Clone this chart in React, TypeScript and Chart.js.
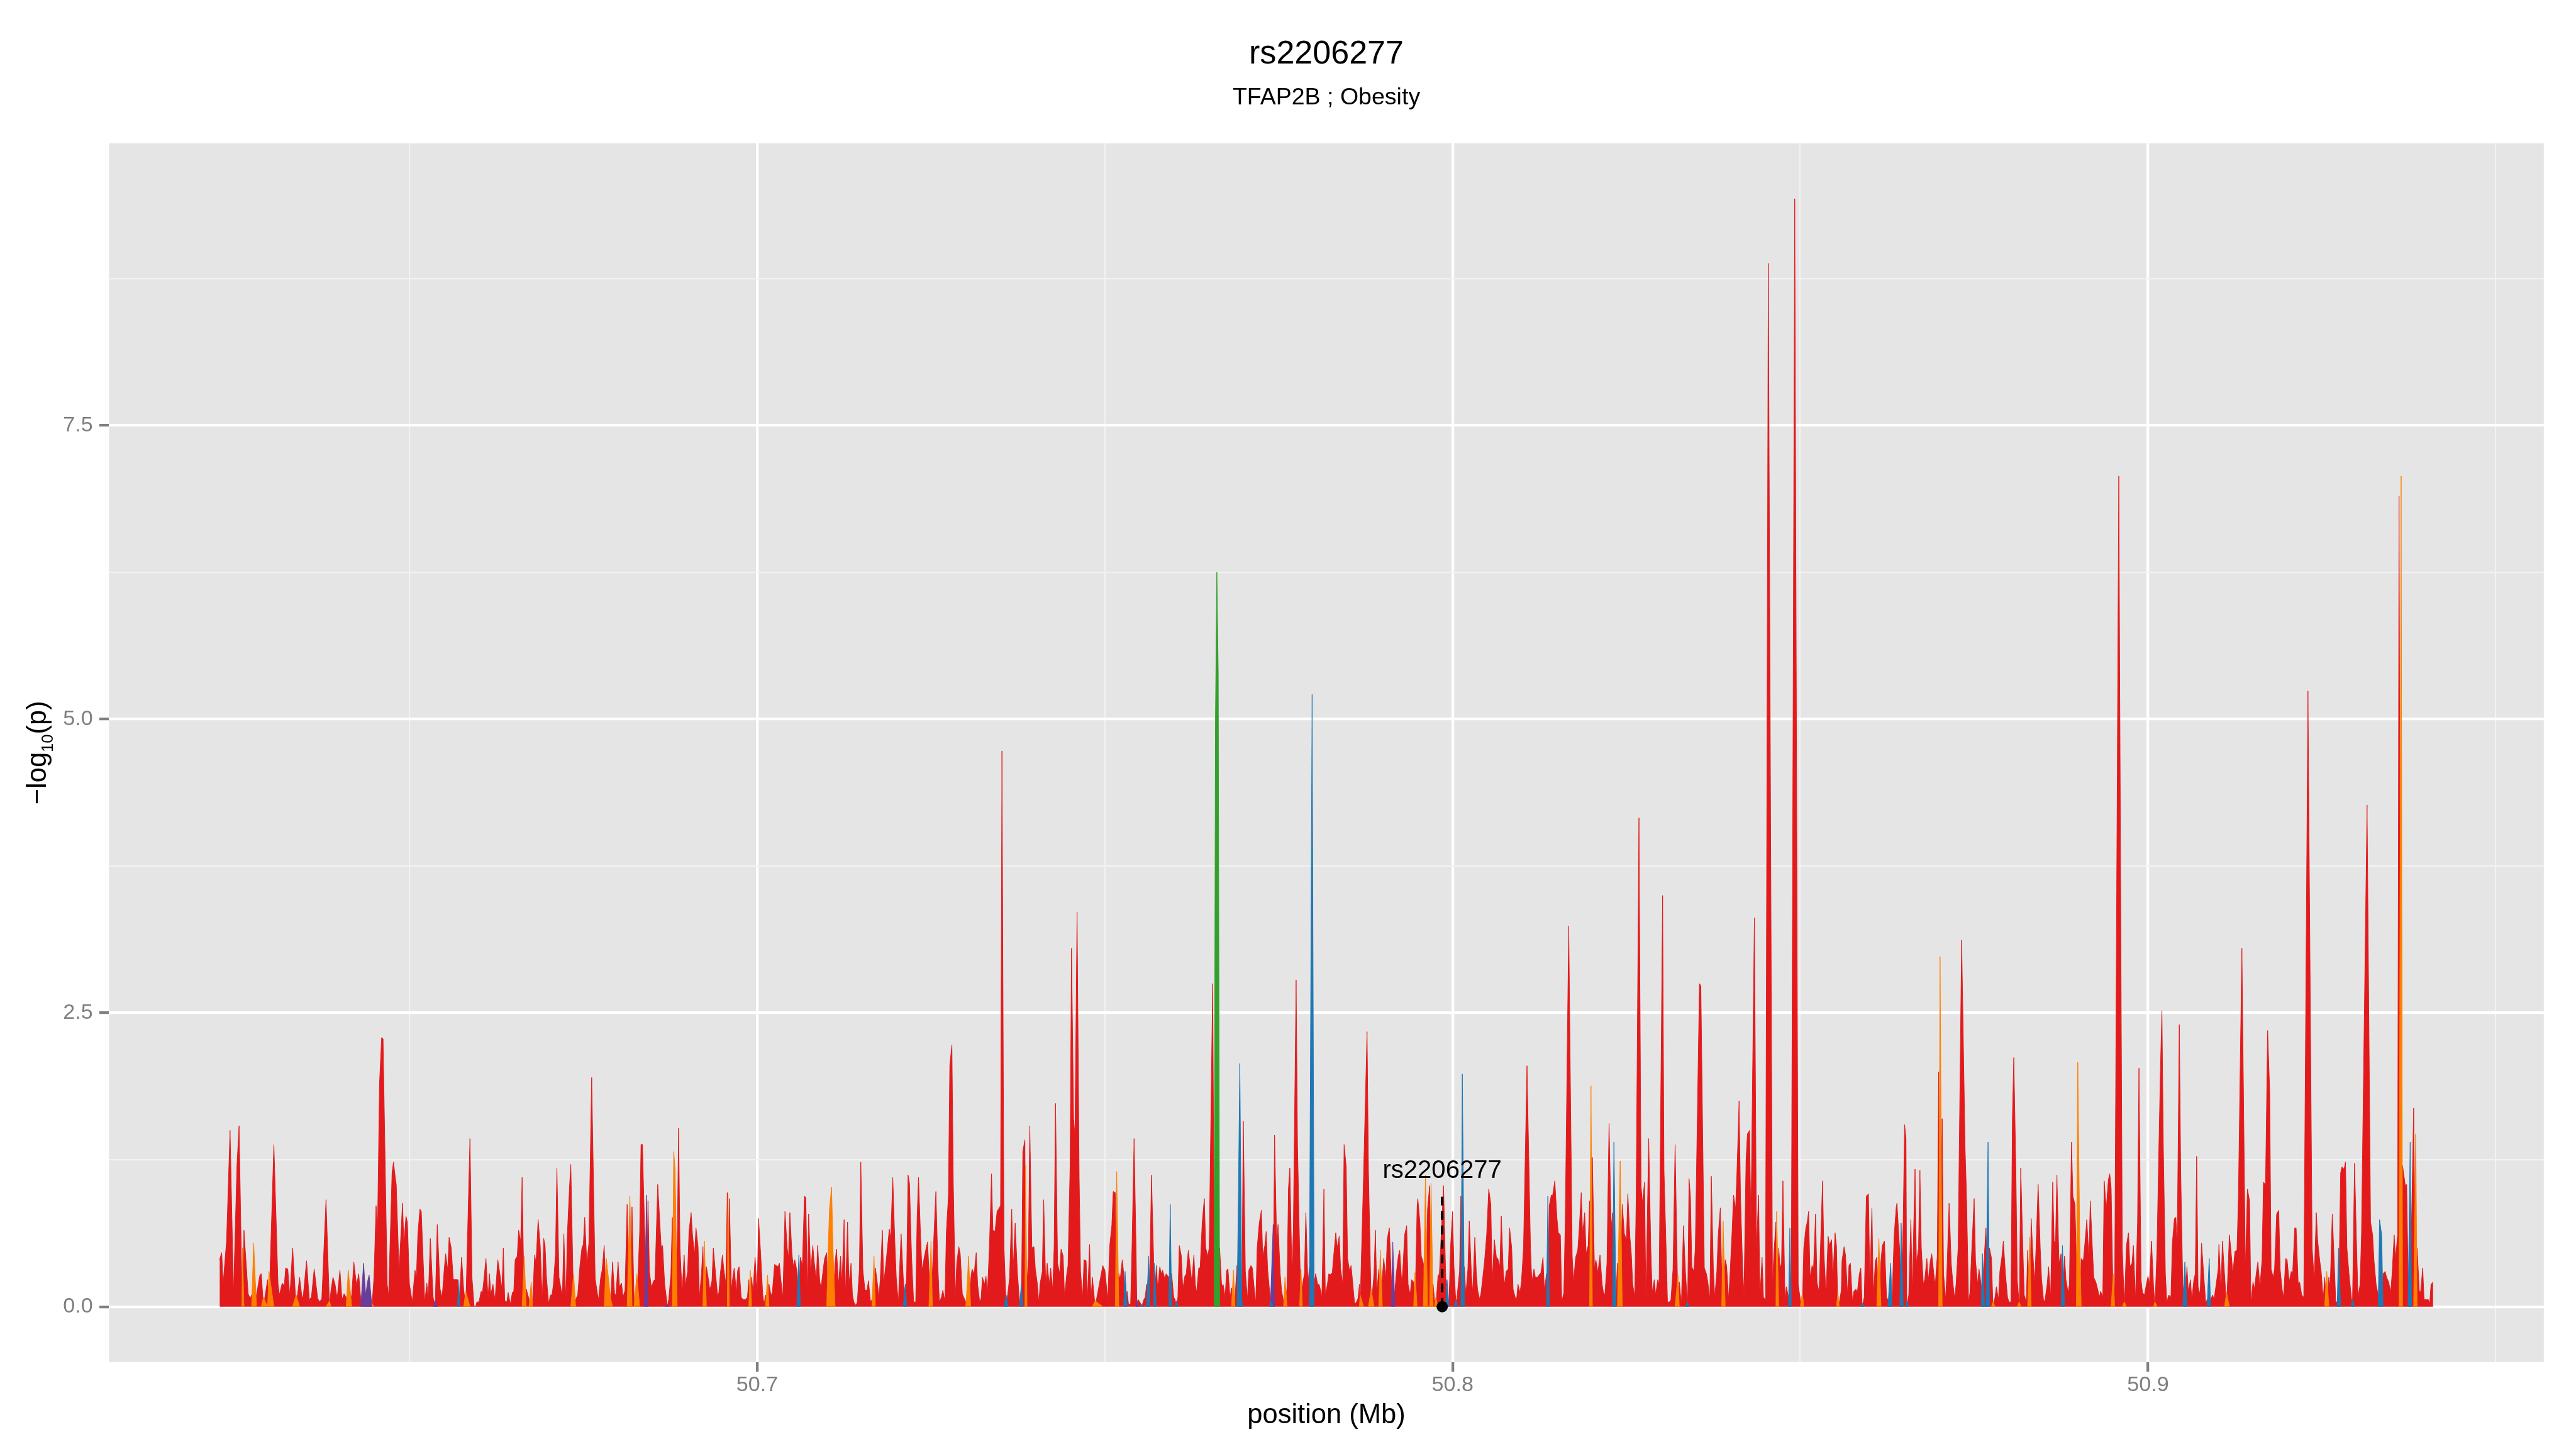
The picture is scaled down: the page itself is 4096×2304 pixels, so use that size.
import React, { useEffect, useRef } from 'react';
import { Chart, registerables } from 'chart.js';

Chart.register(...registerables);

// ---------- text ----------
const chartTitle = 'rs2206277';
const chartSubtitle = 'TFAP2B ; Obesity';
const xAxisTitle = 'position (Mb)';
const yAxisTitleParts = ['\u2212log', '10', '(p)'];

// ---------- lead SNP annotation ----------
const leadSnpName = 'rs2206277';
const leadSnpPos = 50.7985;
const leadSnpValue = 0;
const leadSnpLineTop = 0.94;
const leadSnpLabelY = 1.095;

// ---------- ticks ----------
const xMajorTicks = [50.7, 50.8, 50.9];
const xMinorTicks = [50.65, 50.75, 50.85, 50.95];
const yMajorTicks = [0, 2.5, 5, 7.5];
const yMinorTicks = [1.25, 3.75, 6.25, 8.75];

// ---------- red (default group) SNPs, position (Mb) / -log10(p) ----------
const redPosA = [
  50.6227, 50.6230, 50.6232, 50.6237, 50.6242, 50.6247, 50.6252, 50.6255, 50.6259, 50.6262,
  50.6268, 50.6271, 50.6273, 50.6280, 50.6285, 50.6287, 50.6296, 50.6305, 50.6311, 50.6313,
  50.6317, 50.6320, 50.6322, 50.6325, 50.6328, 50.6332, 50.6342, 50.6345, 50.6347, 50.6352,
  50.6356, 50.6359, 50.6363, 50.6368, 50.6371, 50.6374, 50.6380, 50.6387, 50.6390, 50.6393,
  50.6396, 50.6400, 50.6403, 50.6406, 50.6409, 50.6417, 50.6420, 50.6424, 50.6427, 50.6430,
  50.6449, 50.6452, 50.6454, 50.6457, 50.6460, 50.6462, 50.6468, 50.6470, 50.6475, 50.6477,
  50.6480, 50.6481, 50.6485, 50.6490, 50.6492, 50.6495, 50.6497, 50.6500, 50.6504, 50.6508,
  50.6510, 50.6512, 50.6515, 50.6517, 50.6522, 50.6525, 50.6527, 50.6530, 50.6534, 50.6540,
  50.6544, 50.6547, 50.6550, 50.6552, 50.6555, 50.6557, 50.6560, 50.6563, 50.6566, 50.6569,
  50.6572, 50.6575, 50.6578, 50.6587, 50.6590, 50.6593, 50.6595, 50.6597, 50.6600, 50.6603,
  50.6605, 50.6607, 50.6610, 50.6613, 50.6615, 50.6617, 50.6620, 50.6623, 50.6627, 50.6630,
  50.6633, 50.6635, 50.6637, 50.6640, 50.6642, 50.6645, 50.6648, 50.6650, 50.6652, 50.6655,
  50.6657, 50.6660, 50.6662, 50.6668, 50.6672, 50.6677, 50.6680, 50.6682, 50.6685, 50.6688,
  50.6691, 50.6693, 50.6695, 50.6697, 50.6700, 50.6703, 50.6705, 50.6707, 50.6710, 50.6712,
  50.6715, 50.6718, 50.6720, 50.6722, 50.6725, 50.6727, 50.6730, 50.6732, 50.6739, 50.6742,
  50.6745, 50.6748, 50.6750, 50.6752, 50.6755, 50.6758, 50.6762, 50.6767, 50.6771, 50.6772,
  50.6775, 50.6777, 50.6780, 50.6792, 50.6795, 50.6797, 50.6800, 50.6802, 50.6805, 50.6807,
  50.6810, 50.6813, 50.6820, 50.6823, 50.6831, 50.6833, 50.6835, 50.6838, 50.6843, 50.6845,
  50.6848, 50.6851, 50.6853, 50.6857,
];
const redValA = [
  0.40, 0.46, 0.19, 0.56, 1.50, 0.11, 1.21, 1.54, 0.17, 0.65,
  0.11, 0.07, 0.10, 0.10, 0.27, 0.28, 0.23, 1.38, 0.19, 0.10,
  0.20, 0.18, 0.33, 0.32, 0.09, 0.50, 0.25, 0.10, 0.07, 0.39,
  0.06, 0.08, 0.32, 0.07, 0.04, 0.07, 0.91, 0.13, 0.25, 0.19,
  0.07, 0.31, 0.06, 0.11, 0.08, 0.10, 0.38, 0.18, 0.28, 0.06,
  0.25, 0.86, 0.63, 1.91, 2.29, 2.28, 0.19, 0.09, 1.14, 1.23,
  1.08, 1.04, 0.30, 0.88, 0.54, 0.77, 0.72, 0.19, 0.04, 0.31,
  0.25, 0.61, 0.83, 0.81, 0.04, 0.20, 0.07, 0.58, 0.08, 0.70,
  0.15, 0.08, 0.32, 0.45, 0.31, 0.59, 0.50, 0.23, 0.23, 0.23,
  0.08, 0.42, 0.14, 1.43, 0.24, 0.00, 0.00, 0.04, 0.04, 0.13,
  0.12, 0.23, 0.41, 0.07, 0.28, 0.10, 0.19, 0.05, 0.40, 0.28,
  0.15, 0.50, 0.05, 0.04, 0.12, 0.02, 0.12, 0.13, 0.40, 0.43,
  0.65, 0.55, 1.10, 0.15, 0.06, 0.04, 0.44, 0.37, 0.74, 0.52,
  0.04, 0.58, 0.52, 0.25, 0.03, 0.10, 0.10, 0.19, 0.45, 1.18,
  0.25, 0.15, 0.10, 0.62, 0.04, 0.61, 1.00, 1.21, 0.06, 0.10,
  0.34, 0.50, 0.53, 0.76, 0.37, 0.54, 1.95, 0.24, 0.08, 0.07,
  0.25, 0.31, 0.52, 0.38, 0.11, 0.10, 0.38, 0.17, 0.20, 0.08,
  0.14, 0.87, 0.85, 0.06, 0.63, 1.38, 1.38, 0.69, 0.90, 0.30,
  0.16, 0.22, 0.23, 1.04,
];

const redPosB = [
  50.6862, 50.6864, 50.6867, 50.6873, 50.6876, 50.6878, 50.6885, 50.6887, 50.6889, 50.6892,
  50.6895, 50.6897, 50.6900, 50.6902, 50.6905, 50.6907, 50.6910, 50.6912, 50.6915, 50.6917,
  50.6920, 50.6922, 50.6927, 50.6930, 50.6932, 50.6935, 50.6937, 50.6940, 50.6943, 50.6945,
  50.6947, 50.6950, 50.6952, 50.6955, 50.6957, 50.6960, 50.6963, 50.6965, 50.6967, 50.6970,
  50.6972, 50.6974, 50.6977, 50.6980, 50.6983, 50.6986, 50.6988, 50.6992, 50.6994, 50.6997,
  50.7000, 50.7002, 50.7005, 50.7008, 50.7010, 50.7012, 50.7017, 50.7020, 50.7022, 50.7025,
  50.7027, 50.7030, 50.7032, 50.7034, 50.7037, 50.7040, 50.7043, 50.7045, 50.7047, 50.7050,
  50.7052, 50.7054, 50.7057, 50.7062, 50.7065, 50.7068, 50.7070, 50.7072, 50.7074, 50.7077,
  50.7080, 50.7082, 50.7085, 50.7087, 50.7090, 50.7092, 50.7095, 50.7097, 50.7100, 50.7112,
  50.7114, 50.7117, 50.7120, 50.7122, 50.7125, 50.7127, 50.7130, 50.7132, 50.7135, 50.7137,
  50.7139, 50.7142, 50.7144, 50.7147, 50.7149, 50.7152, 50.7155, 50.7158, 50.7160, 50.7163,
  50.7165, 50.7170, 50.7173, 50.7175, 50.7177, 50.7180, 50.7182, 50.7185, 50.7187, 50.7190,
  50.7192, 50.7195, 50.7198, 50.7200, 50.7203, 50.7205, 50.7207, 50.7210, 50.7215, 50.7217,
  50.7219, 50.7222, 50.7225, 50.7228, 50.7230, 50.7232, 50.7235, 50.7237, 50.7240, 50.7243,
  50.7245, 50.7247, 50.7252, 50.7255, 50.7257, 50.7260, 50.7262, 50.7265, 50.7267, 50.7270,
  50.7272, 50.7275, 50.7277, 50.7280, 50.7282, 50.7285, 50.7287, 50.7290, 50.7292, 50.7295,
  50.7297, 50.7300, 50.7307, 50.7309, 50.7312, 50.7315, 50.7317, 50.7320, 50.7322, 50.7324,
  50.7327, 50.7329, 50.7331, 50.7334, 50.7337, 50.7339, 50.7342, 50.7345, 50.7347, 50.7350,
  50.7352, 50.7355, 50.7361, 50.7363, 50.7366, 50.7368, 50.7371, 50.7374, 50.7377, 50.7382,
  50.7385, 50.7388, 50.7390, 50.7392, 50.7395, 50.7398, 50.7400, 50.7403, 50.7405, 50.7407,
  50.7410, 50.7412, 50.7415, 50.7417, 50.7420, 50.7422, 50.7425, 50.7427, 50.7429, 50.7432,
  50.7435, 50.7437, 50.7440, 50.7442, 50.7445, 50.7447, 50.7450, 50.7452, 50.7455, 50.7457,
  50.7460, 50.7463, 50.7465, 50.7468, 50.7470, 50.7473, 50.7475, 50.7478, 50.7480, 50.7482,
];
const redValB = [
  0.50, 0.52, 0.19, 0.07, 0.28, 0.76, 0.50, 1.52, 0.50, 0.12,
  0.44, 0.18, 0.30, 0.64, 0.80, 0.61, 0.44, 0.67, 0.51, 0.08,
  0.29, 0.51, 0.34, 0.23, 0.14, 0.22, 0.50, 0.29, 0.10, 0.12,
  0.28, 0.44, 0.32, 0.19, 0.97, 0.92, 0.14, 0.25, 0.33, 0.12,
  0.31, 0.34, 0.08, 0.06, 0.06, 0.08, 0.23, 0.25, 0.12, 0.42,
  0.12, 0.75, 0.45, 0.10, 0.02, 0.10, 0.19, 0.09, 0.13, 0.36,
  0.35, 0.34, 0.37, 0.23, 0.08, 0.81, 0.51, 0.41, 0.80, 0.45,
  0.34, 0.40, 0.31, 0.42, 0.35, 0.94, 0.93, 0.11, 0.79, 0.29,
  0.52, 0.38, 0.23, 0.52, 0.21, 0.17, 0.32, 0.41, 0.46, 0.37,
  0.49, 0.19, 0.43, 0.19, 0.74, 0.10, 0.72, 0.19, 0.37, 0.10,
  0.04, 0.01, 0.04, 0.32, 1.23, 0.31, 0.14, 0.14, 0.22, 0.04,
  0.06, 0.33, 0.19, 0.08, 0.23, 0.65, 0.20, 0.36, 0.48, 0.66,
  0.57, 1.10, 0.54, 0.25, 0.03, 0.34, 0.62, 0.25, 0.30, 1.12,
  1.05, 0.43, 0.04, 0.04, 0.76, 1.10, 0.59, 0.31, 0.41, 0.50,
  0.55, 0.31, 0.30, 0.72, 0.98, 0.32, 0.04, 0.08, 0.14, 0.04,
  0.63, 0.94, 2.05, 2.23, 1.06, 0.08, 0.37, 0.51, 0.45, 0.11,
  0.08, 0.04, 0.23, 0.32, 0.28, 0.46, 0.19, 0.04, 0.07, 0.25,
  0.19, 0.26, 0.11, 0.51, 1.13, 0.65, 0.64, 0.81, 0.83, 0.86,
  4.73, 0.50, 0.14, 0.25, 0.83, 0.30, 0.71, 0.31, 0.06, 1.32,
  1.42, 0.19, 0.43, 1.54, 0.50, 0.51, 0.32, 0.19, 0.03, 0.20,
  0.30, 0.91, 0.17, 0.37, 0.19, 0.33, 0.14, 0.50, 1.73, 0.37,
  0.28, 0.49, 0.43, 0.08, 0.27, 0.35, 1.20, 3.05, 1.60, 1.45,
  3.36, 1.10, 0.30, 0.07, 0.40, 0.39, 0.06, 0.53, 0.06, 0.25,
];

const redPosC = [
  50.7497, 50.7500, 50.7502, 50.7504, 50.7507, 50.7510, 50.7512, 50.7515, 50.7520, 50.7522,
  50.7525, 50.7527, 50.7532, 50.7534, 50.7537, 50.7539, 50.7542, 50.7545, 50.7548, 50.7551,
  50.7556, 50.7558, 50.7560, 50.7565, 50.7567, 50.7570, 50.7574, 50.7576, 50.7579, 50.7581,
  50.7583, 50.7586, 50.7588, 50.7592, 50.7596, 50.7599, 50.7601, 50.7605, 50.7607, 50.7610,
  50.7612, 50.7615, 50.7617, 50.7620, 50.7623, 50.7625, 50.7628, 50.7630, 50.7632, 50.7635,
  50.7637, 50.7640, 50.7643, 50.7645, 50.7648, 50.7650, 50.7655, 50.7657, 50.7665, 50.7668,
  50.7670, 50.7673, 50.7675, 50.7677, 50.7680, 50.7682, 50.7687, 50.7690, 50.7699, 50.7702,
  50.7705, 50.7707, 50.7710, 50.7712, 50.7715, 50.7717, 50.7719, 50.7722, 50.7725, 50.7727,
  50.7730, 50.7732, 50.7734, 50.7737, 50.7744, 50.7747, 50.7749, 50.7752, 50.7754, 50.7757,
  50.7762, 50.7764, 50.7766, 50.7769, 50.7771, 50.7775, 50.7777, 50.7780, 50.7784, 50.7787,
  50.7789, 50.7792, 50.7794, 50.7801, 50.7803, 50.7806, 50.7808, 50.7811, 50.7812, 50.7815,
  50.7817, 50.7820, 50.7822, 50.7824, 50.7827, 50.7829, 50.7832, 50.7834, 50.7837, 50.7839,
  50.7842, 50.7844, 50.7847, 50.7849, 50.7852, 50.7854, 50.7856, 50.7859, 50.7861, 50.7864,
  50.7866, 50.7872, 50.7877, 50.7879, 50.7887, 50.7889, 50.7891, 50.7894, 50.7899, 50.7901,
  50.7904, 50.7906, 50.7909, 50.7912, 50.7917, 50.7919, 50.7922, 50.7924, 50.7927, 50.7929,
  50.7931, 50.7934, 50.7936, 50.7939, 50.7941, 50.7944, 50.7949, 50.7950, 50.7953, 50.7955,
  50.7958, 50.7964, 50.7967, 50.7972, 50.7974, 50.7979, 50.7981, 50.7987, 50.7990, 50.7995,
  50.7997, 50.8000, 50.8002, 50.8007, 50.8010, 50.8012, 50.8017, 50.8019, 50.8022, 50.8024,
  50.8027, 50.8029, 50.8032, 50.8034, 50.8036, 50.8039, 50.8041, 50.8044, 50.8046, 50.8049,
  50.8052, 50.8055, 50.8057, 50.8060, 50.8063, 50.8065, 50.8068, 50.8070, 50.8073, 50.8075,
  50.8077, 50.8080, 50.8082, 50.8085, 50.8087, 50.8090, 50.8092, 50.8094, 50.8097, 50.8099,
  50.8102, 50.8107, 50.8112, 50.8114, 50.8117, 50.8119, 50.8122,
];
const redValC = [
  0.35, 0.31, 0.19, 0.04, 0.52, 0.69, 0.98, 0.97, 0.28, 0.23,
  0.40, 0.29, 0.13, 0.02, 0.02, 0.50, 1.43, 0.43, 0.06, 0.03,
  0.06, 0.08, 0.19, 0.41, 1.12, 0.43, 0.35, 0.15, 0.34, 0.28,
  0.31, 0.24, 0.28, 0.25, 0.28, 0.08, 0.06, 0.08, 0.52, 0.43,
  0.15, 0.26, 0.28, 0.48, 0.32, 0.21, 0.44, 0.19, 0.12, 0.33,
  0.33, 0.72, 0.92, 0.50, 0.43, 0.50, 2.75, 0.72, 0.50, 0.17,
  0.19, 0.08, 0.31, 0.32, 0.07, 0.16, 0.06, 0.35, 1.58, 0.30,
  0.06, 0.31, 0.35, 0.33, 0.14, 0.03, 0.50, 0.71, 0.82, 0.43,
  0.52, 0.64, 0.32, 0.12, 1.46, 0.55, 0.70, 0.29, 0.14, 0.04,
  0.17, 1.01, 1.18, 0.28, 0.65, 2.78, 1.38, 0.50, 0.18, 0.28,
  0.80, 0.19, 0.33, 0.19, 0.28, 0.19, 0.19, 0.12, 0.06, 1.00,
  0.10, 0.19, 0.28, 0.27, 0.29, 0.43, 0.63, 0.50, 0.60, 0.32,
  0.19, 1.38, 1.19, 0.41, 0.30, 0.35, 0.23, 0.03, 0.03, 0.07,
  0.19, 1.12, 2.34, 1.16, 0.28, 0.65, 0.12, 0.32, 0.25, 0.41,
  0.24, 0.57, 0.67, 0.23, 0.13, 0.28, 0.43, 0.48, 0.19, 0.37,
  0.61, 0.69, 0.19, 0.10, 0.23, 0.21, 0.85, 0.92, 0.72, 0.43,
  0.37, 0.83, 1.03, 0.19, 0.06, 0.26, 0.28, 1.03, 0.28, 0.06,
  0.50, 0.81, 0.34, 0.12, 0.30, 0.94, 0.34, 0.10, 0.32, 0.73,
  0.28, 0.12, 0.59, 0.30, 0.14, 0.06, 0.12, 0.28, 0.39, 0.61,
  1.00, 0.87, 0.19, 0.57, 0.42, 0.41, 0.34, 0.77, 0.28, 0.19,
  0.30, 0.32, 0.67, 0.50, 0.15, 0.08, 0.06, 0.19, 0.12, 0.21,
  0.50, 2.05, 0.50, 0.21, 0.32, 0.25, 0.25,
];

const redPosD = [
  50.8127, 50.8130, 50.8132, 50.8135, 50.8139, 50.8142, 50.8144, 50.8147, 50.8150, 50.8152,
  50.8155, 50.8157, 50.8160, 50.8162, 50.8167, 50.8172, 50.8174, 50.8177, 50.8180, 50.8182,
  50.8185, 50.8187, 50.8190, 50.8192, 50.8195, 50.8197, 50.8201, 50.8204, 50.8206, 50.8209,
  50.8212, 50.8215, 50.8217, 50.8219, 50.8222, 50.8225, 50.8228, 50.8230, 50.8235, 50.8237,
  50.8244, 50.8247, 50.8250, 50.8252, 50.8255, 50.8257, 50.8259, 50.8262, 50.8264, 50.8268,
  50.8271, 50.8273, 50.8276, 50.8278, 50.8282, 50.8285, 50.8287, 50.8290, 50.8292, 50.8295,
  50.8297, 50.8302, 50.8304, 50.8307, 50.8309, 50.8312, 50.8314, 50.8317, 50.8320, 50.8326,
  50.8329, 50.8332, 50.8335, 50.8340, 50.8342, 50.8344, 50.8347, 50.8349, 50.8355, 50.8357,
  50.8362, 50.8365, 50.8367, 50.8370, 50.8372, 50.8375, 50.8377, 50.8380, 50.8382, 50.8385,
  50.8387, 50.8392, 50.8394, 50.8397, 50.8399, 50.8402, 50.8404, 50.8407, 50.8409, 50.8412,
  50.8414, 50.8417, 50.8419, 50.8422, 50.8424, 50.8427, 50.8429, 50.8434, 50.8437, 50.8440,
  50.8442, 50.8445, 50.8447, 50.8450, 50.8454, 50.8460, 50.8462, 50.8465, 50.8469, 50.8471,
  50.8473, 50.8475, 50.8478, 50.8480, 50.8483, 50.8487, 50.8492, 50.8497, 50.8500, 50.8505,
  50.8508, 50.8510, 50.8512, 50.8514, 50.8517, 50.8519, 50.8522, 50.8524, 50.8527, 50.8529,
  50.8532, 50.8534, 50.8537, 50.8540, 50.8542, 50.8545, 50.8547, 50.8550, 50.8552, 50.8556,
  50.8559, 50.8560, 50.8563, 50.8565, 50.8568, 50.8570, 50.8572, 50.8575, 50.8577, 50.8580,
  50.8582, 50.8585, 50.8587, 50.8592, 50.8595, 50.8598, 50.8600, 50.8603, 50.8605, 50.8608,
  50.8610, 50.8616, 50.8618, 50.8621, 50.8624, 50.8626, 50.8632, 50.8635, 50.8638, 50.8639,
  50.8643, 50.8648, 50.8650, 50.8652, 50.8656, 50.8659, 50.8661, 50.8665, 50.8667, 50.8670,
  50.8672, 50.8674, 50.8677, 50.8679, 50.8682, 50.8684, 50.8687, 50.8689, 50.8692, 50.8694,
  50.8697, 50.8699, 50.8704, 50.8706, 50.8709, 50.8711, 50.8714, 50.8717, 50.8719, 50.8722,
  50.8724, 50.8727, 50.8732, 50.8737, 50.8739, 50.8742, 50.8744, 50.8746, 50.8750, 50.8752,
  50.8755,
];
const redValD = [
  0.29, 0.42, 0.13, 0.28, 0.86, 0.95, 0.95, 1.07, 0.76, 0.63,
  0.61, 0.04, 0.12, 0.72, 3.24, 0.43, 0.21, 0.42, 0.48, 0.65,
  0.97, 0.62, 0.80, 0.45, 0.52, 0.90, 1.27, 0.32, 0.40, 0.29,
  0.44, 0.19, 0.12, 0.10, 0.37, 1.56, 0.66, 0.80, 0.08, 0.37,
  0.87, 0.62, 0.57, 0.96, 0.59, 0.45, 0.19, 0.08, 0.94, 4.16,
  1.03, 0.88, 1.06, 0.06, 1.43, 0.50, 0.12, 0.23, 0.10, 0.23,
  0.19, 3.50, 1.16, 0.50, 0.04, 0.04, 0.06, 0.32, 1.38, 0.21,
  0.02, 0.69, 0.28, 1.09, 0.94, 0.34, 0.30, 0.50, 2.75, 2.73,
  0.33, 0.28, 0.21, 0.06, 1.11, 0.32, 0.08, 0.30, 0.61, 0.84,
  0.28, 0.40, 0.35, 0.06, 0.28, 0.65, 0.95, 0.83, 1.16, 1.75,
  0.94, 0.34, 0.10, 1.25, 1.47, 1.50, 0.72, 3.31, 0.50, 0.95,
  0.08, 0.42, 0.08, 0.06, 8.88, 0.18, 0.45, 0.72, 0.50, 0.32,
  0.37, 1.07, 0.06, 0.17, 0.08, 0.06, 9.43, 0.19, 0.06, 0.50,
  0.67, 0.72, 0.81, 0.25, 0.35, 0.32, 0.79, 0.21, 0.12, 0.50,
  1.07, 0.45, 0.10, 0.60, 0.52, 0.57, 0.25, 0.63, 0.52, 0.03,
  0.14, 0.39, 0.51, 0.44, 0.10, 0.35, 0.37, 0.04, 0.13, 0.15,
  0.12, 0.28, 0.33, 0.08, 0.94, 0.96, 0.19, 0.84, 0.08, 0.39,
  0.42, 0.39, 0.52, 0.56, 0.08, 0.06, 0.06, 0.61, 0.85, 0.88,
  0.47, 0.74, 1.55, 1.43, 0.10, 0.74, 0.12, 1.17, 0.37, 0.50,
  1.16, 0.50, 0.19, 0.23, 0.41, 0.22, 0.39, 0.45, 0.28, 0.18,
  0.43, 2.00, 1.60, 0.28, 0.06, 0.32, 0.88, 0.37, 0.23, 0.06,
  0.19, 0.50, 3.12, 1.34, 0.94, 0.04, 0.12, 0.41, 0.92, 0.39,
  0.19,
];

const redPosE = [
  50.8757, 50.8760, 50.8765, 50.8767, 50.8772, 50.8775, 50.8780, 50.8782, 50.8785, 50.8787,
  50.8790, 50.8792, 50.8795, 50.8798, 50.8800, 50.8803, 50.8805, 50.8807, 50.8810, 50.8812,
  50.8817, 50.8820, 50.8822, 50.8825, 50.8827, 50.8832, 50.8834, 50.8837, 50.8839, 50.8842,
  50.8845, 50.8847, 50.8850, 50.8852, 50.8855, 50.8857, 50.8860, 50.8863, 50.8865, 50.8867,
  50.8869, 50.8872, 50.8875, 50.8880, 50.8882, 50.8885, 50.8887, 50.8890, 50.8892, 50.8895,
  50.8897, 50.8904, 50.8907, 50.8910, 50.8912, 50.8915, 50.8917, 50.8920, 50.8922, 50.8925,
  50.8928, 50.8930, 50.8932, 50.8935, 50.8937, 50.8940, 50.8943, 50.8945, 50.8947, 50.8952,
  50.8958, 50.8963, 50.8969, 50.8972, 50.8974, 50.8977, 50.8979, 50.8982, 50.8985, 50.8987,
  50.8990, 50.8992, 50.8995, 50.8997, 50.9000, 50.9002, 50.9005, 50.9008, 50.9013, 50.9015,
  50.9018, 50.9020, 50.9022, 50.9025, 50.9027, 50.9030, 50.9033, 50.9035, 50.9038, 50.9040,
  50.9042, 50.9045, 50.9047, 50.9050, 50.9056, 50.9058, 50.9061, 50.9063, 50.9066, 50.9068,
  50.9070, 50.9072, 50.9075, 50.9077, 50.9080, 50.9083, 50.9085, 50.9090, 50.9093, 50.9095,
  50.9098, 50.9101, 50.9102, 50.9105, 50.9107, 50.9110, 50.9117, 50.9119, 50.9122, 50.9125,
  50.9128, 50.9130, 50.9135, 50.9140, 50.9143, 50.9146, 50.9148, 50.9151, 50.9153, 50.9156,
  50.9158, 50.9161, 50.9164, 50.9166, 50.9169, 50.9172, 50.9175, 50.9177, 50.9180, 50.9182,
  50.9185, 50.9188, 50.9190, 50.9193, 50.9195, 50.9198, 50.9200, 50.9203, 50.9206, 50.9208,
  50.9211, 50.9213, 50.9216, 50.9218, 50.9221, 50.9224, 50.9230, 50.9236, 50.9239, 50.9242,
  50.9244, 50.9247, 50.9249, 50.9252, 50.9254, 50.9260, 50.9262, 50.9265, 50.9267, 50.9270,
  50.9272, 50.9277, 50.9279, 50.9282, 50.9284, 50.9286, 50.9289, 50.9292, 50.9297, 50.9300,
  50.9302, 50.9305, 50.9307, 50.9315, 50.9320, 50.9323, 50.9325, 50.9328, 50.9331, 50.9338,
  50.9341, 50.9343, 50.9346, 50.9349, 50.9351, 50.9354, 50.9356, 50.9359, 50.9361, 50.9366,
  50.9367, 50.9370, 50.9372, 50.9374, 50.9379, 50.9382, 50.9387, 50.9390, 50.9392, 50.9395,
  50.9397, 50.9400, 50.9403, 50.9405, 50.9407, 50.9410,
];
const redValE = [
  0.32, 0.19, 0.47, 0.67, 0.50, 0.41, 0.08, 0.17, 0.06, 0.30,
  0.43, 0.56, 0.28, 0.08, 0.04, 0.04, 1.60, 2.12, 1.16, 0.23,
  1.18, 0.50, 0.10, 0.04, 0.48, 0.75, 0.50, 0.19, 0.50, 1.04,
  0.50, 0.23, 0.04, 0.06, 0.19, 0.34, 0.08, 1.06, 0.56, 0.54,
  1.12, 0.37, 0.45, 0.43, 0.23, 0.12, 0.19, 1.40, 0.94, 0.87,
  0.39, 0.41, 0.39, 0.59, 0.74, 0.41, 0.90, 0.50, 0.25, 0.21,
  0.14, 0.08, 0.13, 0.08, 1.07, 0.83, 1.08, 1.13, 1.01, 0.03,
  7.07, 0.50, 0.52, 0.63, 0.34, 0.37, 0.52, 0.06, 0.72, 2.03,
  0.23, 0.12, 0.10, 0.17, 0.26, 0.19, 0.56, 0.17, 0.50, 1.16,
  2.05, 2.52, 1.38, 0.28, 0.04, 0.10, 0.08, 0.54, 0.75, 0.76,
  0.52, 2.40, 1.16, 0.19, 0.34, 0.12, 0.23, 0.06, 0.23, 0.28,
  1.28, 0.17, 0.10, 0.54, 0.28, 0.03, 0.06, 0.06, 0.10, 0.06,
  0.19, 0.32, 0.53, 0.14, 0.56, 0.28, 0.61, 0.50, 0.28, 0.47,
  0.48, 0.94, 3.05, 0.32, 1.00, 0.90, 0.03, 0.21, 0.15, 0.30,
  0.38, 0.17, 0.40, 1.06, 1.04, 2.35, 1.83, 0.32, 0.25, 0.32,
  0.79, 0.82, 0.32, 0.14, 0.08, 0.41, 0.40, 0.21, 0.30, 0.28,
  0.67, 0.67, 0.19, 0.21, 0.10, 0.08, 5.24, 0.50, 0.23, 0.80,
  0.56, 0.39, 0.30, 0.06, 0.25, 0.25, 0.17, 0.79, 0.50, 0.04,
  0.04, 1.14, 1.19, 1.17, 1.23, 0.50, 0.28, 0.10, 1.22, 0.50,
  0.08, 0.19, 0.61, 4.27, 0.72, 0.61, 0.39, 0.19, 0.10, 0.28,
  0.30, 0.25, 0.21, 0.12, 0.28, 0.61, 0.41, 0.61, 6.90, 1.20,
  1.16, 1.03, 1.04, 0.28, 0.72, 1.69, 0.50, 0.14, 0.12, 0.33,
  0.06, 0.06, 0.06, 0.02, 0.19, 0.21,
];

// ---------- coloured groups ----------
const orangePos = [
  50.6260, 50.6276, 50.6290, 50.6298, 50.6337, 50.6385, 50.6412, 50.6446, 50.6581, 50.6665, 50.6675, 50.6736, 50.6783, 50.6786, 50.6789, 50.6817, 50.6827,
  50.6880, 50.6882, 50.6924, 50.6958, 50.6990, 50.7015, 50.7102, 50.7104, 50.7107, 50.7109, 50.7168, 50.7250, 50.7302, 50.7304, 50.7386, 50.7486,
  50.7517, 50.7685, 50.7759, 50.7782, 50.7867, 50.7883, 50.7896, 50.7946, 50.7961, 50.7969, 50.7976,
  50.8199, 50.8241, 50.8324, 50.8389, 50.8466, 50.8503, 50.8554, 50.8613, 50.8701,
  50.8777, 50.8815, 50.8830, 50.8899, 50.8902, 50.8950, 50.8966, 50.9010, 50.9113, 50.9257, 50.9364, 50.9385,
];
const orangeVal = [
  0.50, 0.54, 0.08, 0.30, 0.10, 0.05, 0.31, 0.03, 0.13, 0.43, 0.21, 0.28, 0.41, 0.25, 0.08, 0.94, 0.28,
  1.32, 1.16, 0.56, 0.97, 0.31, 0.27, 0.48, 0.83, 1.02, 0.50, 0.43, 0.56, 0.19, 0.43, 1.20, 0.05,
  1.15, 0.31, 0.25, 0.32, 0.10, 0.15, 0.48, 0.29, 1.12, 1.05, 0.08,
  1.88, 1.24, 0.27, 0.73, 0.81, 0.12, 0.12, 0.58, 2.98,
  0.04, 0.04, 0.59, 2.08, 0.50, 0.28, 0.04, 0.04, 0.12, 0.30, 7.07, 1.47,
];
const bluePos = [
  50.6571, 50.7060, 50.7213, 50.7358, 50.7380, 50.7529, 50.7553, 50.7563, 50.7571, 50.7594,
  50.7603, 50.7692, 50.7694, 50.7697, 50.7738, 50.7798, 50.7992, 50.8005, 50.8014, 50.8137,
  50.8232, 50.8338, 50.8485, 50.8589, 50.8630, 50.8645, 50.8653, 50.8762, 50.8770, 50.8877,
  50.9053, 50.9088, 50.9274, 50.9294, 50.9333, 50.9336, 50.9377,
];
const blueVal = [
  0.23, 0.44, 0.19, 0.10, 0.19, 0.30, 0.02, 0.43, 0.37, 0.87,
  0.05, 0.94, 2.07, 0.04, 0.05, 5.21, 0.23, 0.06, 1.98, 0.94,
  1.40, 0.04, 0.67, 0.03, 0.37, 0.71, 0.05, 0.45, 1.40, 0.52,
  0.38, 0.41, 0.50, 0.06, 0.74, 0.61, 1.40,
];
const greenPos = [50.7659, 50.7661, 50.7663];
const greenVal = [5.00, 6.25, 5.40];
const purplePos = [50.6434, 50.6437, 50.6440, 50.6442, 50.6537, 50.6841, 50.6871, 50.7546, 50.7742, 50.7914];
const purpleVal = [0.37, 0.10, 0.22, 0.27, 0.05, 0.95, 0.02, 0.06, 0.70, 0.55];

// ---------- styling / layout (reference pixels, scaled to the window) ----------
const S = 4096 / 4800;
const W = 4096;
const H = 2304;
const FONT = "'Liberation Sans', Arial, Helvetica, sans-serif";
const COLORS: Record<string, string> = {
  r: '#E31A1C',
  o: '#FF7F00',
  b: '#1F78B4',
  g: '#33A02C',
  p: '#6A3D9A',
};
const PANEL = { left: 203 * S, right: 4740 * S, top: 267 * S, bottom: 2538 * S };

type Pt = { x: number; v: number; g: string };

function buildPoints(): Pt[] {
  const pts: Pt[] = [];
  const add = (pos: number[], val: number[], g: string) =>
    pos.forEach((x, i) => pts.push({ x, v: val[i], g }));
  add(redPosA, redValA, 'r');
  add(redPosB, redValB, 'r');
  add(redPosC, redValC, 'r');
  add(redPosD, redValD, 'r');
  add(redPosE, redValE, 'r');
  add(orangePos, orangeVal, 'o');
  add(bluePos, blueVal, 'b');
  add(greenPos, greenVal, 'g');
  add(purplePos, purpleVal, 'p');
  pts.sort((a, b) => a.x - b.x);
  return pts;
}

const near = (a: number, b: number) => Math.abs(a - b) < 1e-9;

export default function App() {
  const ref = useRef<HTMLCanvasElement | null>(null);

  useEffect(() => {
    const canvas = ref.current;
    if (!canvas) return;
    document.body.style.margin = '0';

    const pts = buildPoints();
    const xs = pts.map((p) => p.x);
    const vs = pts.map((p) => p.v);
    const xLo = Math.min(...xs);
    const xHi = Math.max(...xs);
    const yHi = Math.max(...vs);
    const xPad = (xHi - xLo) * 0.05;
    const yPad = yHi * 0.05;

    const redData = pts.map((p) => ({ x: p.x, y: p.g === 'r' ? p.v : 0 }));
    const groupData = (g: string) =>
      pts.map((p, i) => {
        if (p.g === g) return { x: p.x, y: p.v };
        const prev = pts[i - 1];
        const next = pts[i + 1];
        if ((prev && prev.g === g) || (next && next.g === g)) return { x: p.x, y: 0 };
        return { x: p.x, y: null as any };
      });

    const areaDs = (data: any[], color: string, order: number) => ({
      data,
      borderColor: color,
      backgroundColor: color,
      borderWidth: 1,
      pointRadius: 0,
      fill: 'origin',
      spanGaps: false,
      tension: 0,
      order,
    });

    const datasets: any[] = [
      {
        data: [
          { x: leadSnpPos, y: leadSnpValue },
          { x: leadSnpPos, y: leadSnpLineTop },
        ],
        borderColor: '#000000',
        borderWidth: 4,
        borderDash: [14, 9],
        pointRadius: 0,
        fill: false,
        order: 1,
      },
      {
        data: [{ x: leadSnpPos, y: leadSnpValue }],
        showLine: false,
        pointRadius: 9,
        pointBackgroundColor: '#000000',
        pointBorderWidth: 0,
        borderColor: '#000000',
        fill: false,
        order: 0,
      },
      areaDs(groupData('g'), COLORS.g, 2),
      areaDs(groupData('b'), COLORS.b, 3),
      areaDs(groupData('p'), COLORS.p, 4),
      areaDs(groupData('o'), COLORS.o, 5),
      areaDs(redData, COLORS.r, 9),
    ];

    const isMajorX = (v: number) => xMajorTicks.some((m) => near(m, v));
    const isMajorY = (v: number) => yMajorTicks.some((m) => near(m, v));

    const bgPlugin = {
      id: 'bg',
      beforeDraw(chart: any) {
        const { ctx, chartArea } = chart;
        ctx.save();
        ctx.fillStyle = '#FFFFFF';
        ctx.fillRect(0, 0, W, H);
        ctx.fillStyle = '#E5E5E5';
        ctx.fillRect(chartArea.left, chartArea.top, chartArea.right - chartArea.left, chartArea.bottom - chartArea.top);
        ctx.restore();
      },
    };

    const textPlugin = {
      id: 'texts',
      afterDraw(chart: any) {
        const { ctx, chartArea, scales } = chart;
        const cx = (chartArea.left + chartArea.right) / 2;
        ctx.save();
        ctx.fillStyle = '#000000';
        ctx.textAlign = 'center';
        ctx.textBaseline = 'alphabetic';
        ctx.font = `${61 * S}px ${FONT}`;
        ctx.fillText(chartTitle, cx, 118 * S);
        ctx.font = `${44 * S}px ${FONT}`;
        ctx.fillText(chartSubtitle, cx, 195 * S);
        ctx.font = `${51 * S}px ${FONT}`;
        ctx.fillText(xAxisTitle, cx, 2652 * S);

        // lead SNP label
        ctx.font = `${47 * S}px ${FONT}`;
        ctx.fillText(leadSnpName, scales.x.getPixelForValue(leadSnpPos), scales.y.getPixelForValue(leadSnpLabelY));

        // y axis title with subscript
        const big = `${51 * S}px ${FONT}`;
        const small = `${30 * S}px ${FONT}`;
        ctx.font = big;
        const w1 = ctx.measureText(yAxisTitleParts[0]).width;
        const w3 = ctx.measureText(yAxisTitleParts[2]).width;
        ctx.font = small;
        const w2 = ctx.measureText(yAxisTitleParts[1]).width;
        ctx.translate(86 * S, (chartArea.top + chartArea.bottom) / 2);
        ctx.rotate(-Math.PI / 2);
        ctx.textAlign = 'left';
        let x = -(w1 + w2 + w3) / 2;
        ctx.font = big;
        ctx.fillText(yAxisTitleParts[0], x, 0);
        x += w1;
        ctx.font = small;
        ctx.fillText(yAxisTitleParts[1], x, 12 * S);
        x += w2;
        ctx.font = big;
        ctx.fillText(yAxisTitleParts[2], x, 0);
        ctx.restore();
      },
    };

    const tickFont = { family: FONT, size: 40 * S };
    const tickLen = 18 * S;

    const chart = new Chart(canvas, {
      type: 'line',
      data: { datasets },
      options: {
        animation: false,
        responsive: false,
        devicePixelRatio: 1,
        events: [],
        layout: { padding: { top: PANEL.top, right: W - PANEL.right, left: 0, bottom: 0 } },
        plugins: { legend: { display: false }, tooltip: { enabled: false }, title: { display: false } },
        elements: { point: { radius: 0 }, line: { tension: 0 } },
        scales: {
          x: {
            type: 'linear',
            min: xLo - xPad,
            max: xHi + xPad,
            afterBuildTicks: (s: any) => {
              s.ticks = [...xMinorTicks, ...xMajorTicks].sort((a, b) => a - b).map((v) => ({ value: v }));
            },
            afterFit: (s: any) => {
              s.height = H - PANEL.bottom;
            },
            border: { display: false },
            grid: {
              color: (c: any) => (c.tick && isMajorX(c.tick.value) ? '#FFFFFF' : '#F2F2F2'),
              lineWidth: (c: any) => (c.tick && isMajorX(c.tick.value) ? 5 * S : 2.6 * S),
              tickColor: (c: any) => (c.tick && isMajorX(c.tick.value) ? '#7F7F7F' : 'rgba(0,0,0,0)'),
              tickWidth: 5 * S,
              tickLength: tickLen,
              drawTicks: true,
            },
            ticks: {
              autoSkip: false,
              maxRotation: 0,
              minRotation: 0,
              padding: 1,
              color: '#7F7F7F',
              font: tickFont,
              callback: (v: any) => (isMajorX(Number(v)) ? Number(v).toFixed(1) : ''),
            },
          },
          y: {
            type: 'linear',
            min: -yPad,
            max: yHi + yPad,
            afterBuildTicks: (s: any) => {
              s.ticks = [...yMinorTicks, ...yMajorTicks].sort((a, b) => a - b).map((v) => ({ value: v }));
            },
            afterFit: (s: any) => {
              s.width = PANEL.left;
            },
            border: { display: false },
            grid: {
              color: (c: any) => (c.tick && isMajorY(c.tick.value) ? '#FFFFFF' : '#F2F2F2'),
              lineWidth: (c: any) => (c.tick && isMajorY(c.tick.value) ? 5 * S : 2.6 * S),
              tickColor: (c: any) => (c.tick && isMajorY(c.tick.value) ? '#7F7F7F' : 'rgba(0,0,0,0)'),
              tickWidth: 5 * S,
              tickLength: tickLen,
              drawTicks: true,
            },
            ticks: {
              autoSkip: false,
              padding: 12 * S,
              color: '#7F7F7F',
              font: tickFont,
              callback: (v: any) => (isMajorY(Number(v)) ? Number(v).toFixed(1) : ''),
            },
          },
        },
      } as any,
      plugins: [bgPlugin, textPlugin],
    });

    return () => chart.destroy();
  }, []);

  return (
    <div style={{ position: 'fixed', left: 0, top: 0, width: W, height: H, background: '#FFFFFF' }}>
      <canvas ref={ref} width={W} height={H} style={{ width: W, height: H, display: 'block' }} />
    </div>
  );
}
